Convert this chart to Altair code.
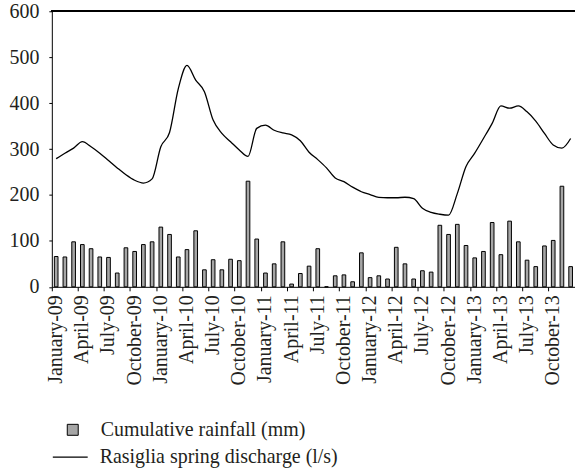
import altair as alt
import pandas as pd

month_names = ["January", "February", "March", "April", "May", "June", "July",
               "August", "September", "October", "November", "December"]
years = ["09", "10", "11", "12", "13"]
months = [f"{m}-{y}" for y in years for m in month_names]

rainfall = [66, 65, 98, 92, 83, 65, 64, 30, 85, 77, 92, 98,
            130, 114, 65, 81, 122, 37, 59, 37, 60, 57, 230, 104,
            30, 50, 98, 6, 29, 45, 83, 0, 24, 26, 11, 74,
            20, 24, 17, 86, 50, 17, 35, 32, 134, 114, 136, 90,
            63, 77, 140, 70, 143, 98, 58, 44, 89, 101, 219, 44]

discharge = [279, 291, 302, 316, 305, 291, 275, 259, 244, 232, 226, 235,
             305, 336, 431, 482, 450, 425, 363, 334, 316, 298, 284, 345,
             352, 341, 335, 331, 318, 293, 277, 259, 237, 229, 217, 207,
             201, 195, 194, 194, 195, 192, 171, 162, 158, 156, 203, 262,
             291, 323, 356, 394, 389, 394, 381, 361, 334, 309, 302, 323]

tick_months = months[::3]
bar_label = "Cumulative rainfall (mm)"
line_label = "Rasiglia spring discharge (l/s)"

df = pd.DataFrame({"month": months, "rain": rainfall, "q": discharge,
                   "s1": bar_label, "s2": line_label})

FONT = "Liberation Serif"
FS = 20
TXT = "#231f20"

xenc = alt.X("month:N", sort=months,
             scale=alt.Scale(paddingInner=0, paddingOuter=0),
             axis=alt.Axis(title=None, values=tick_months, bandPosition=0,
                           labelAngle=270, labelFont=FONT, labelFontSize=FS,
                           labelColor=TXT, tickSize=4, tickColor="black",
                           domainColor="black", labelPadding=4,
                           labelOverlap=False, grid=False))

yscale = alt.Scale(domain=[0, 600], nice=False)

bars = alt.Chart(df).mark_bar(width=alt.RelativeBandSize(0.42), stroke="black",
                              strokeWidth=1).encode(
    x=xenc,
    y=alt.Y("rain:Q", scale=yscale,
            axis=alt.Axis(title=None, values=[0, 100, 200, 300, 400, 500, 600],
                          labelFont=FONT, labelFontSize=FS, labelColor=TXT,
                          tickSize=3, tickColor="black", domainColor="black",
                          labelPadding=10, grid=False)),
    fill=alt.Fill("s1:N", scale=alt.Scale(domain=[bar_label], range=["#a6a6a6"]),
                  legend=alt.Legend(title=None, orient="none", legendX=11, legendY=410,
                                    symbolType="square", symbolSize=121,
                                    symbolStrokeColor="black", symbolStrokeWidth=1,
                                    labelFont=FONT, labelFontSize=FS, labelColor=TXT,
                                    labelOffset=18, labelLimit=0, padding=0)),
)

line = alt.Chart(df).mark_line(color="black", strokeWidth=1.3, interpolate="monotone").encode(
    x=alt.X("month:N", sort=months),
    y=alt.Y("q:Q", scale=yscale),
    stroke=alt.Stroke("s2:N", scale=alt.Scale(domain=[line_label], range=["black"]),
                      legend=alt.Legend(title=None, orient="none", legendX=0, legendY=429,
                                        symbolType="stroke", symbolSize=1225,
                                        symbolStrokeWidth=1.3,
                                        labelFont=FONT, labelFontSize=FS, labelColor=TXT,
                                        labelOffset=11, labelLimit=0, padding=0)),
)

top = alt.Chart(df).mark_rule(color="black", strokeWidth=1.2).encode(y=alt.datum(600))

chart = alt.layer(bars, line, top).resolve_scale(fill="independent", stroke="independent").properties(
    width=525, height=276.5,
    padding={"left": 52, "top": 10.5, "right": 0, "bottom": 183},
    autosize=alt.AutoSizeParams(type="none"),
    background="white",
).configure(font=FONT).configure_view(stroke=None).configure_axis(
    labelFont=FONT).configure_legend(labelFont=FONT)

chart.save("out.html", embed_options={"renderer": "svg", "actions": False})
